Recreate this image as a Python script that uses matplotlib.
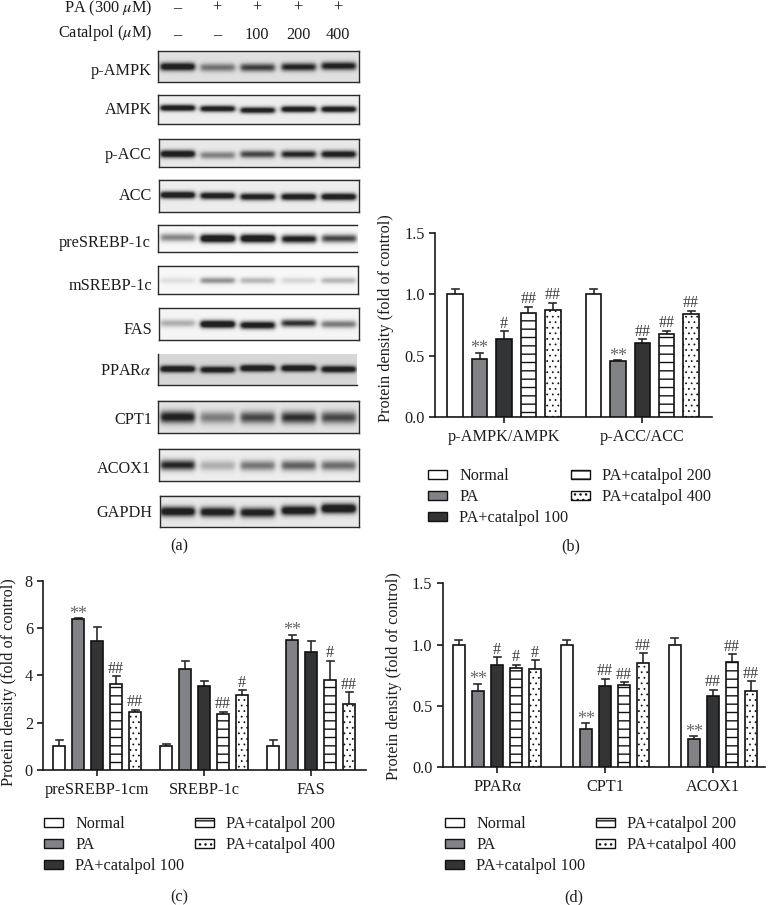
import numpy as np
import matplotlib
matplotlib.use("Agg")
import matplotlib.pyplot as plt

plt.rcParams['font.family'] = ['Liberation Serif', 'DejaVu Serif']
plt.rcParams['mathtext.fontset'] = 'stix'
plt.rcParams['hatch.linewidth'] = 1.0

W, H = 769, 905

# ------------------ data ------------------
series = ['Normal', 'PA', 'PA+catalpol 100', 'PA+catalpol 200', 'PA+catalpol 400']

b_groups = ['p-AMPK/AMPK', 'p-ACC/ACC']
b_values = [[1.00, 0.47, 0.64, 0.85, 0.87], [1.00, 0.455, 0.60, 0.68, 0.84]]
b_tops = [[1.04, 0.525, 0.70, 0.90, 0.93], [1.04, 0.465, 0.635, 0.705, 0.865]]
b_marks = [['', '**', '#', '##', '##'], ['', '**', '##', '##', '##']]

c_groups = ['preSREBP-1cm', 'SREBP-1c', 'FAS']
c_values = [[1.0, 6.37, 5.45, 3.63, 2.45], [1.0, 4.25, 3.55, 2.38, 3.15], [1.0, 5.5, 4.97, 3.82, 2.8]]
c_tops = [[1.25, 6.43, 6.05, 3.97, 2.55], [1.08, 4.6, 3.77, 2.47, 3.37], [1.25, 5.72, 5.47, 4.62, 3.28]]
c_marks = [['', '**', '', '##', '##'], ['', '', '', '##', '#'], ['', '**', '', '#', '##']]

d_groups = ['PPARα', 'CPT1', 'ACOX1']
d_values = [[1.0, 0.62, 0.83, 0.81, 0.80], [1.0, 0.31, 0.66, 0.67, 0.85], [1.0, 0.23, 0.58, 0.855, 0.62]]
d_tops = [[1.04, 0.68, 0.895, 0.835, 0.87], [1.04, 0.36, 0.72, 0.69, 0.93], [1.05, 0.25, 0.63, 0.92, 0.70]]
d_marks = [['', '**', '#', '#', '#'], ['', '**', '##', '##', '##'], ['', '**', '##', '##', '##']]

blot_names = ['p-AMPK', 'AMPK', 'p-ACC', 'ACC', 'preSREBP-1c', 'mSREBP-1c', 'FAS',
              'PPAR$\\alpha$', 'CPT1', 'ACOX1', 'GAPDH']
blot_strength = [
    [.90, .42, .62, .75, .80], [.95, .88, .85, .92, .92], [.95, .38, .60, .75, .85],
    [.95, .88, .85, .90, .92], [.38, 1.0, 1.0, .80, .60], [.08, .34, .22, .11, .22],
    [.24, 1.0, .88, .68, .42], [.98, .88, 1.0, .98, .92], [.78, .38, .58, .68, .58],
    [.72, .22, .42, .50, .45], [.90, .85, .82, .90, .98]]
pa_row = ['–', '+', '+', '+', '+']
cat_row = ['–', '–', '100', '200', '400']

# ------------------ layout (pixels) ------------------
lanes = [177, 217, 257, 298, 338]
blot_boxes = [(157.5, 358.5, 51.5, 82), (157.5, 358.5, 95, 124), (158.5, 358.5, 139, 167),
              (158.5, 358.5, 180, 212), (157.5, 357, 225, 252.5), (157.5, 357.5, 266, 294.5),
              (158.5, 358.5, 308.3, 339.7), (157.5, 356.5, 354, 385), (157.5, 358.5, 400.7, 433.3),
              (158.5, 358.5, 448.7, 481.3), (159.5, 358.5, 495.7, 527.3)]
band_rows = [[66.7, 67.5, 67.5, 67, 66], [107.7, 108.5, 110, 109, 109], [153.7, 155, 154, 154, 154],
             [195.3, 196, 197, 197, 197], [238, 239, 239, 239.5, 239], [281, 281, 281, 281, 281],
             [323, 324, 325, 323, 324], [368.7, 369.5, 368, 368, 369], [417.5, 418, 418, 418, 418],
             [465.5, 466, 466, 466, 466], [512, 512.5, 513, 511, 509]]
band_sigma = [2.8, 2.2, 2.6, 2.4, 2.8, 2.2, 2.6, 2.4, 4.2, 3.6, 3.4]
blot_bg = [.88, .93, .91, .93, .97, .97, .96, .84, .89, .93, .91]
blot_edges = ['ltrb', 'ltrb', 'ltrb', 'ltrb', 'ltb', 'ltrb', 'ltrb', 'lb', 'ltrb', 'ltrb', 'ltrb']
label_y = [71, 110, 155, 196, 243, 286, 330, 371, 420, 469, 513]
label_right = [152, 152, 152, 152, 151, 152, 152, 152, 152, 151, 152]

fig = plt.figure(figsize=(W / 100, H / 100), dpi=100, facecolor='white')
px = fig.add_axes([0, 0, 1, 1], zorder=0)
px.set_xlim(0, W)
px.set_ylim(H, 0)
px.axis('off')

FS = 11.7
TXT = '#1c1c1c'


def blot(box, rows, strengths, sigma, bg):
    x0, x1, y0, y1 = box
    xs = np.arange(x0, x1, 0.5)
    ys = np.arange(y0, y1, 0.5)
    X, Y = np.meshgrid(xs, ys)
    ink = np.zeros_like(X)
    for c, r, s in zip(lanes, rows, strengths):
        win = 0.5 * (np.tanh((X - c + 17) / 2.5) - np.tanh((X - c - 17) / 2.5))
        ink += s * win * np.exp(-((Y - r) / sigma) ** 2 / 2)
    ink = np.clip(1.4 * ink, 0, 1)
    img = bg - (bg - 0.13) * ink
    px.imshow(img, extent=(x0, x1, y1, y0), cmap='gray', vmin=0, vmax=1,
              aspect='auto', interpolation='bilinear', zorder=1)


for i, name in enumerate(blot_names):
    blot(blot_boxes[i], band_rows[i], blot_strength[i], band_sigma[i], blot_bg[i])
    x0, x1, y0, y1 = blot_boxes[i]
    segs = {'l': ([x0, x0], [y0, y1]), 'r': ([x1, x1], [y0, y1]),
            't': ([x0, x1], [y0, y0]), 'b': ([x0, x1], [y1, y1])}
    for e in blot_edges[i]:
        px.plot(*segs[e], color='#2a2a2a', lw=1.0, zorder=2, solid_capstyle='projecting')
    px.text(label_right[i], label_y[i], name, ha='right', va='center', fontsize=FS, color=TXT)
px.set_xlim(0, W)
px.set_ylim(H, 0)

px.text(152, 8, 'PA (300 $\\mu$M)', ha='right', va='center', fontsize=FS, color=TXT)
px.text(152, 33, 'Catalpol ($\\mu$M)', ha='right', va='center', fontsize=FS, color=TXT)
for c, a, b in zip(lanes, pa_row, cat_row):
    px.text(c, 8, a, ha='center', va='center', fontsize=FS, color=TXT)
    px.text(c, 35, b, ha='center', va='center', fontsize=FS, color=TXT)

for s, x, y in [('(a)', 179, 546), ('(b)', 571, 546), ('(c)', 179, 897), ('(d)', 574, 897)]:
    px.text(x, y, s, ha='center', va='center', fontsize=FS, color=TXT)

for x, y in [(386, 318), (9, 682), (394, 676)]:
    px.text(x, y, 'Protein density (fold of control)', rotation=90, ha='center', va='center',
            fontsize=FS, color=TXT)

fills = ['white', '#808285', '#333436', 'white', 'white']
hatches = [None, None, None, '--', '...']


def panel(left, right, top, bottom, ymax, yticks, ylabels, spacing, centers,
          groups, values, tops, marks, barw, legend_xy, colgap):
    ax = fig.add_axes([left / W, 1 - bottom / H, (right - left) / W, (bottom - top) / H],
                      zorder=3, facecolor='none')
    ax.set_xlim(0, (right - left) / spacing)
    ax.set_ylim(0, ymax)
    handles = []
    for g, c in enumerate(centers):
        cx = (c - left) / spacing
        for k in range(5):
            x = cx + (k - 2)
            v, t = values[g][k], tops[g][k]
            ax.plot([x, x], [v, t], color='#2a2a2a', lw=1.2, zorder=2, solid_capstyle='butt')
            ax.plot([x - 3.5 / spacing, x + 3.5 / spacing], [t, t], color='#2a2a2a', lw=1.2, zorder=2)
            with plt.rc_context({'hatch.linewidth': 0.55 if k == 4 else 1.0}):
                bar = ax.bar(x, v, width=barw / spacing, facecolor=fills[k], edgecolor='#111111',
                             linewidth=1.2, hatch=hatches[k], zorder=3)
            if g == 0:
                handles.append(bar[0])
            m = marks[g][k]
            if m:
                hash_mark = m.startswith('#')
                ax.annotate(m, (x, t), xytext=(0, 2.5 if hash_mark else -0.5), textcoords='offset points',
                            ha='center', va='baseline', fontsize=11.5 if hash_mark else 13,
                            color='#3a3a3a' if hash_mark else '#666666', zorder=4)
    for s in ['top', 'right']:
        ax.spines[s].set_visible(False)
    for s in ['left', 'bottom']:
        ax.spines[s].set_linewidth(1.2)
        ax.spines[s].set_color('#1a1a1a')
    ax.set_xticks([(c - left) / spacing for c in centers])
    ax.set_xticklabels(groups)
    ax.set_yticks(yticks)
    ax.set_yticklabels(ylabels)
    ax.tick_params(axis='both', labelsize=FS, labelcolor=TXT, color='#1a1a1a', width=1.2, length=4.3)
    ax.tick_params(axis='x', pad=4.2)
    ax.tick_params(axis='y', pad=3.2)
    leg = ax.legend(handles, series, ncol=2, frameon=False, fontsize=FS,
                    bbox_to_anchor=(legend_xy[0] / W, 1 - legend_xy[1] / H),
                    bbox_transform=fig.transFigure, loc='upper left', borderaxespad=0, borderpad=0,
                    handlelength=1.17, handleheight=0.5, handletextpad=0.74,
                    labelspacing=0.31, columnspacing=colgap)
    for t in leg.get_texts():
        t.set_color(TXT)
    for p in leg.get_patches():
        p.set_linewidth(1.0)
    return ax


yt15 = [0.0, 0.5, 1.0, 1.5]
yl15 = ['0.0', '0.5', '1.0', '1.5']
panel(435, 712, 232.7, 417.3, 1.5, yt15, yl15, 24.4, [504, 642.3], b_groups, b_values, b_tops,
      b_marks, 15.5, (428, 468), 0.2)
panel(43.3, 365.7, 580.7, 770, 8, [0, 2, 4, 6, 8], ['0', '2', '4', '6', '8'], 19, [97, 204, 311],
      c_groups, c_values, c_tops, c_marks, 11.5, (44, 816), 0.65)
panel(442.7, 765, 583.3, 767, 1.5, yt15, yl15, 19.1, [497, 605, 713], d_groups, d_values, d_tops,
      d_marks, 11.5, (445, 816), 0.65)

fig.savefig('out.png', dpi=100)
